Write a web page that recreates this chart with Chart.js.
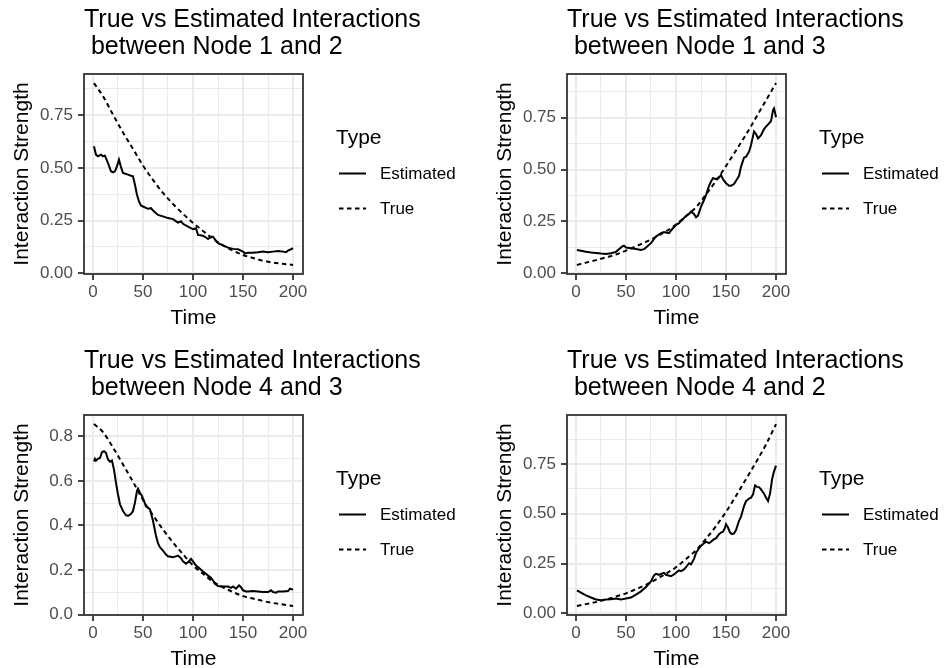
<!DOCTYPE html>
<html>
<head>
<meta charset="utf-8">
<title>True vs Estimated Interactions</title>
<script src="https://cdn.jsdelivr.net/npm/chart.js@4.4.1/dist/chart.umd.min.js"></script>
<style>
  html, body { margin: 0; padding: 0; background: #fff; overflow: hidden; }
  #wrap { position: relative; width: 944px; height: 668px; }
  canvas { position: absolute; }
</style>
</head>
<body>
<div id="wrap">
  <canvas id="p12" width="472" height="334" style="left:0;top:0"></canvas>
  <canvas id="p13" width="472" height="334" style="left:483px;top:0"></canvas>
  <canvas id="p43" width="472" height="334" style="left:0;top:341px"></canvas>
  <canvas id="p42" width="472" height="334" style="left:483px;top:341px"></canvas>
</div>
<script>
// dashed "True" curves share one time grid
const trueTime = [1, 10, 20, 30, 40, 50, 60, 70, 80, 90, 100, 110, 120, 130, 140, 150, 160, 170, 180, 190, 200];
const true12 = [0.902, 0.840, 0.753, 0.668, 0.590, 0.511, 0.443, 0.381, 0.329, 0.282, 0.239, 0.201, 0.164, 0.133, 0.108, 0.087, 0.073, 0.060, 0.051, 0.045, 0.040];
const true13 = [0.040, 0.051, 0.063, 0.076, 0.090, 0.109, 0.130, 0.151, 0.175, 0.202, 0.235, 0.275, 0.318, 0.380, 0.445, 0.517, 0.592, 0.669, 0.751, 0.834, 0.917];
const true43 = [0.855, 0.819, 0.750, 0.674, 0.596, 0.514, 0.446, 0.382, 0.324, 0.271, 0.221, 0.183, 0.148, 0.122, 0.101, 0.083, 0.072, 0.061, 0.052, 0.045, 0.039];
const true42 = [0.038, 0.047, 0.057, 0.070, 0.085, 0.101, 0.122, 0.144, 0.171, 0.200, 0.232, 0.273, 0.317, 0.375, 0.438, 0.510, 0.590, 0.674, 0.759, 0.848, 0.950];

// estimated curves, each read at its own times
const est12Time = [1, 3, 5, 8, 10, 12, 15, 18, 20, 22, 24, 26, 28, 30, 35, 38, 40, 42, 44, 46, 48, 50, 55, 58, 60, 65, 70, 75, 80, 85, 88, 90, 95, 100, 103, 105, 110, 113, 115, 118, 120, 123, 125, 130, 135, 140, 145, 150, 152, 155, 160, 165, 170, 175, 180, 185, 190, 193, 195, 200];
const est12 = [0.603, 0.563, 0.555, 0.563, 0.555, 0.558, 0.523, 0.484, 0.479, 0.484, 0.507, 0.539, 0.504, 0.476, 0.468, 0.463, 0.460, 0.420, 0.373, 0.341, 0.322, 0.317, 0.306, 0.309, 0.298, 0.277, 0.270, 0.262, 0.257, 0.241, 0.247, 0.235, 0.222, 0.209, 0.214, 0.182, 0.178, 0.170, 0.163, 0.174, 0.174, 0.154, 0.143, 0.133, 0.122, 0.116, 0.114, 0.103, 0.095, 0.098, 0.098, 0.100, 0.103, 0.100, 0.103, 0.106, 0.103, 0.100, 0.108, 0.119];

const est13Time = [1, 5, 10, 15, 20, 25, 30, 35, 40, 43, 46, 48, 50, 55, 60, 65, 68, 70, 75, 80, 85, 88, 90, 93, 95, 100, 103, 105, 110, 113, 115, 118, 120, 122, 125, 128, 130, 133, 135, 137, 140, 143, 145, 147, 150, 153, 155, 158, 160, 163, 165, 168, 170, 173, 175, 178, 180, 182, 185, 188, 190, 193, 195, 197, 198, 200];
const est13 = [0.112, 0.108, 0.103, 0.100, 0.098, 0.095, 0.093, 0.096, 0.103, 0.116, 0.128, 0.133, 0.124, 0.120, 0.117, 0.112, 0.116, 0.124, 0.145, 0.177, 0.193, 0.199, 0.196, 0.193, 0.206, 0.233, 0.241, 0.252, 0.276, 0.286, 0.297, 0.286, 0.270, 0.278, 0.321, 0.353, 0.377, 0.421, 0.442, 0.458, 0.454, 0.461, 0.474, 0.453, 0.434, 0.422, 0.422, 0.430, 0.446, 0.469, 0.514, 0.557, 0.562, 0.586, 0.618, 0.683, 0.671, 0.650, 0.666, 0.695, 0.707, 0.723, 0.734, 0.787, 0.795, 0.752];

const est43Time = [1, 2, 3, 5, 7, 9, 11, 13, 15, 17, 19, 21, 23, 25, 27, 30, 33, 35, 38, 40, 42, 44, 45, 47, 49, 51, 53, 55, 57, 60, 63, 65, 67, 70, 73, 75, 80, 85, 88, 90, 93, 95, 98, 100, 103, 105, 108, 110, 113, 115, 118, 120, 122, 125, 130, 135, 138, 140, 143, 146, 148, 150, 153, 155, 160, 165, 170, 175, 178, 180, 183, 185, 190, 195, 197, 200];
const est43 = [0.688, 0.699, 0.691, 0.699, 0.703, 0.729, 0.733, 0.726, 0.696, 0.686, 0.691, 0.651, 0.592, 0.540, 0.495, 0.465, 0.446, 0.443, 0.451, 0.465, 0.503, 0.555, 0.565, 0.547, 0.532, 0.510, 0.485, 0.480, 0.473, 0.421, 0.354, 0.321, 0.302, 0.287, 0.269, 0.262, 0.257, 0.265, 0.253, 0.239, 0.228, 0.235, 0.250, 0.239, 0.220, 0.213, 0.201, 0.193, 0.183, 0.175, 0.165, 0.153, 0.138, 0.128, 0.126, 0.126, 0.120, 0.126, 0.116, 0.131, 0.123, 0.109, 0.104, 0.104, 0.106, 0.104, 0.101, 0.101, 0.109, 0.101, 0.098, 0.104, 0.104, 0.106, 0.116, 0.112];

const est42Time = [1, 5, 10, 15, 20, 25, 30, 35, 40, 45, 50, 55, 60, 65, 70, 75, 78, 80, 83, 85, 88, 90, 95, 98, 100, 103, 105, 108, 110, 113, 115, 118, 120, 123, 125, 128, 130, 133, 135, 138, 140, 143, 145, 147, 149, 150, 152, 154, 156, 158, 160, 163, 165, 168, 170, 173, 175, 177, 179, 181, 183, 185, 188, 190, 192, 194, 196, 198, 200];
const est42 = [0.116, 0.105, 0.091, 0.080, 0.070, 0.066, 0.070, 0.071, 0.075, 0.070, 0.075, 0.080, 0.095, 0.111, 0.133, 0.161, 0.191, 0.199, 0.194, 0.199, 0.204, 0.194, 0.187, 0.196, 0.204, 0.216, 0.212, 0.221, 0.232, 0.252, 0.246, 0.274, 0.304, 0.327, 0.340, 0.352, 0.360, 0.353, 0.360, 0.373, 0.377, 0.398, 0.406, 0.410, 0.431, 0.448, 0.431, 0.406, 0.398, 0.402, 0.418, 0.465, 0.486, 0.539, 0.564, 0.576, 0.581, 0.597, 0.642, 0.635, 0.634, 0.622, 0.601, 0.581, 0.564, 0.601, 0.672, 0.713, 0.742];

const timeTicks = [0, 50, 100, 150, 200];
const quarterTicks = [0, 0.25, 0.5, 0.75];
const fifthTicks = [0, 0.2, 0.4, 0.6, 0.8];
const typeLabels = ['Estimated', 'True'];

const panels = [
  { id: 'p12', pair: '1 and 2', estTime: est12Time, est: est12, truth: true12, yTicks: quarterTicks, digits: 2 },
  { id: 'p13', pair: '1 and 3', estTime: est13Time, est: est13, truth: true13, yTicks: quarterTicks, digits: 2 },
  { id: 'p43', pair: '4 and 3', estTime: est43Time, est: est43, truth: true43, yTicks: fifthTicks, digits: 1 },
  { id: 'p42', pair: '4 and 2', estTime: est42Time, est: est42, truth: true42, yTicks: quarterTicks, digits: 2 }
];

const FAMILY = '"Liberation Sans", Arial, Helvetica, sans-serif';
Chart.defaults.font.family = FAMILY;
Chart.defaults.animation = false;

const GRID = '#EBEBEB';
const INK = '#333333';

function points(xs, ys) {
  return xs.map((x, i) => ({ x: x, y: ys[i] }));
}

// ggplot-style limits: data range plus 5% on each side
function limits(vals) {
  const lo = Math.min(...vals);
  const hi = Math.max(...vals);
  const pad = (hi - lo) * 0.05;
  return [lo - pad, hi + pad];
}

// major ticks plus the half-way minor ones that fall inside the range
function tickList(major, lo, hi) {
  const step = major[1] - major[0];
  const out = major.map(v => ({ value: v }));
  const minors = [major[0] - step / 2];
  major.forEach(v => minors.push(v + step / 2));
  minors.forEach(v => {
    if (v >= lo && v <= hi) out.push({ value: v, minor: true });
  });
  return out.sort((a, b) => a.value - b.value);
}

const gridOpts = {
  color: GRID,
  lineWidth: c => (c.tick && c.tick.minor ? 1 : 2),
  tickColor: c => (c.tick && c.tick.minor ? 'rgba(0,0,0,0)' : INK),
  tickWidth: 1.8,
  tickLength: 6
};

// two-line title, left-aligned on the panel like ggplot's
const panelTitle = {
  id: 'panelTitle',
  afterDraw(chart, args, opts) {
    const a = chart.chartArea;
    const ctx = chart.ctx;
    ctx.save();
    ctx.fillStyle = '#000';
    ctx.font = '25px ' + FAMILY;
    ctx.textAlign = 'left';
    ctx.textBaseline = 'alphabetic';
    opts.lines.forEach((line, i) => ctx.fillText(line, a.left, a.top - 47 + i * 27));
    ctx.restore();
  }
};

const panelBorder = {
  id: 'panelBorder',
  afterDatasetsDraw(chart) {
    const a = chart.chartArea;
    const ctx = chart.ctx;
    ctx.save();
    ctx.strokeStyle = INK;
    ctx.lineWidth = 1.8;
    ctx.strokeRect(a.left, a.top, a.right - a.left, a.bottom - a.top);
    ctx.restore();
  }
};

const typeKey = {
  id: 'typeKey',
  afterDraw(chart) {
    const a = chart.chartArea;
    const ctx = chart.ctx;
    const x = a.right + 33;
    ctx.save();
    ctx.fillStyle = '#000';
    ctx.textAlign = 'left';
    ctx.textBaseline = 'alphabetic';
    ctx.font = '21px ' + FAMILY;
    ctx.fillText('Type', x, a.top + 70);
    chart.data.datasets.forEach((ds, i) => {
      const y = a.top + 99.5 + i * 35;
      ctx.beginPath();
      ctx.setLineDash(ds.borderDash || []);
      ctx.lineWidth = ds.borderWidth;
      ctx.strokeStyle = ds.borderColor;
      ctx.moveTo(x + 3, y);
      ctx.lineTo(x + 30, y);
      ctx.stroke();
      ctx.setLineDash([]);
      ctx.font = '17px ' + FAMILY;
      ctx.textBaseline = 'middle';
      ctx.fillText(ds.label, x + 44, y + 1);
    });
    ctx.restore();
  }
};

panels.forEach(p => {
  const [xMin, xMax] = limits(p.estTime.concat(trueTime));
  const [yMin, yMax] = limits(p.est.concat(p.truth));

  new Chart(document.getElementById(p.id), {
    type: 'line',
    data: {
      datasets: [
        {
          label: typeLabels[0],
          data: points(p.estTime, p.est),
          borderColor: '#000',
          borderWidth: 2,
          pointRadius: 0,
          tension: 0,
          order: 1
        },
        {
          label: typeLabels[1],
          data: points(trueTime, p.truth),
          borderColor: '#000',
          borderWidth: 2,
          borderDash: [4.5, 3.5],
          pointRadius: 0,
          cubicInterpolationMode: 'monotone',
          order: 0
        }
      ]
    },
    options: {
      responsive: false,
      events: [],
      layout: { padding: { left: 0, top: 74, right: 169, bottom: 0 } },
      plugins: {
        legend: { display: false },
        tooltip: { enabled: false },
        panelTitle: { lines: ['True vs Estimated Interactions', ' between Node ' + p.pair] }
      },
      scales: {
        x: {
          type: 'linear',
          min: xMin,
          max: xMax,
          afterBuildTicks: s => { s.ticks = tickList(timeTicks, xMin, xMax); },
          afterFit: s => { s.height = 60; },
          ticks: {
            autoSkip: false,
            maxRotation: 0,
            padding: 2,
            color: '#4D4D4D',
            font: { size: 17 },
            callback: (v, i, t) => (t[i].minor ? '' : String(v))
          },
          grid: gridOpts,
          border: { display: false },
          title: { display: true, text: 'Time', color: '#000', font: { size: 21 }, padding: { top: 0, bottom: 3 } }
        },
        y: {
          type: 'linear',
          min: yMin,
          max: yMax,
          afterBuildTicks: s => { s.ticks = tickList(p.yTicks, yMin, yMax); },
          afterFit: s => { s.width = 84; },
          ticks: {
            autoSkip: false,
            padding: 5,
            color: '#4D4D4D',
            font: { size: 17 },
            callback: (v, i, t) => (t[i].minor ? '' : v.toFixed(p.digits))
          },
          grid: gridOpts,
          border: { display: false },
          title: { display: true, text: 'Interaction Strength', color: '#000', font: { size: 21 }, padding: { top: 10, bottom: 0 } }
        }
      }
    },
    plugins: [panelBorder, typeKey, panelTitle]
  });
});
</script>
</body>
</html>
